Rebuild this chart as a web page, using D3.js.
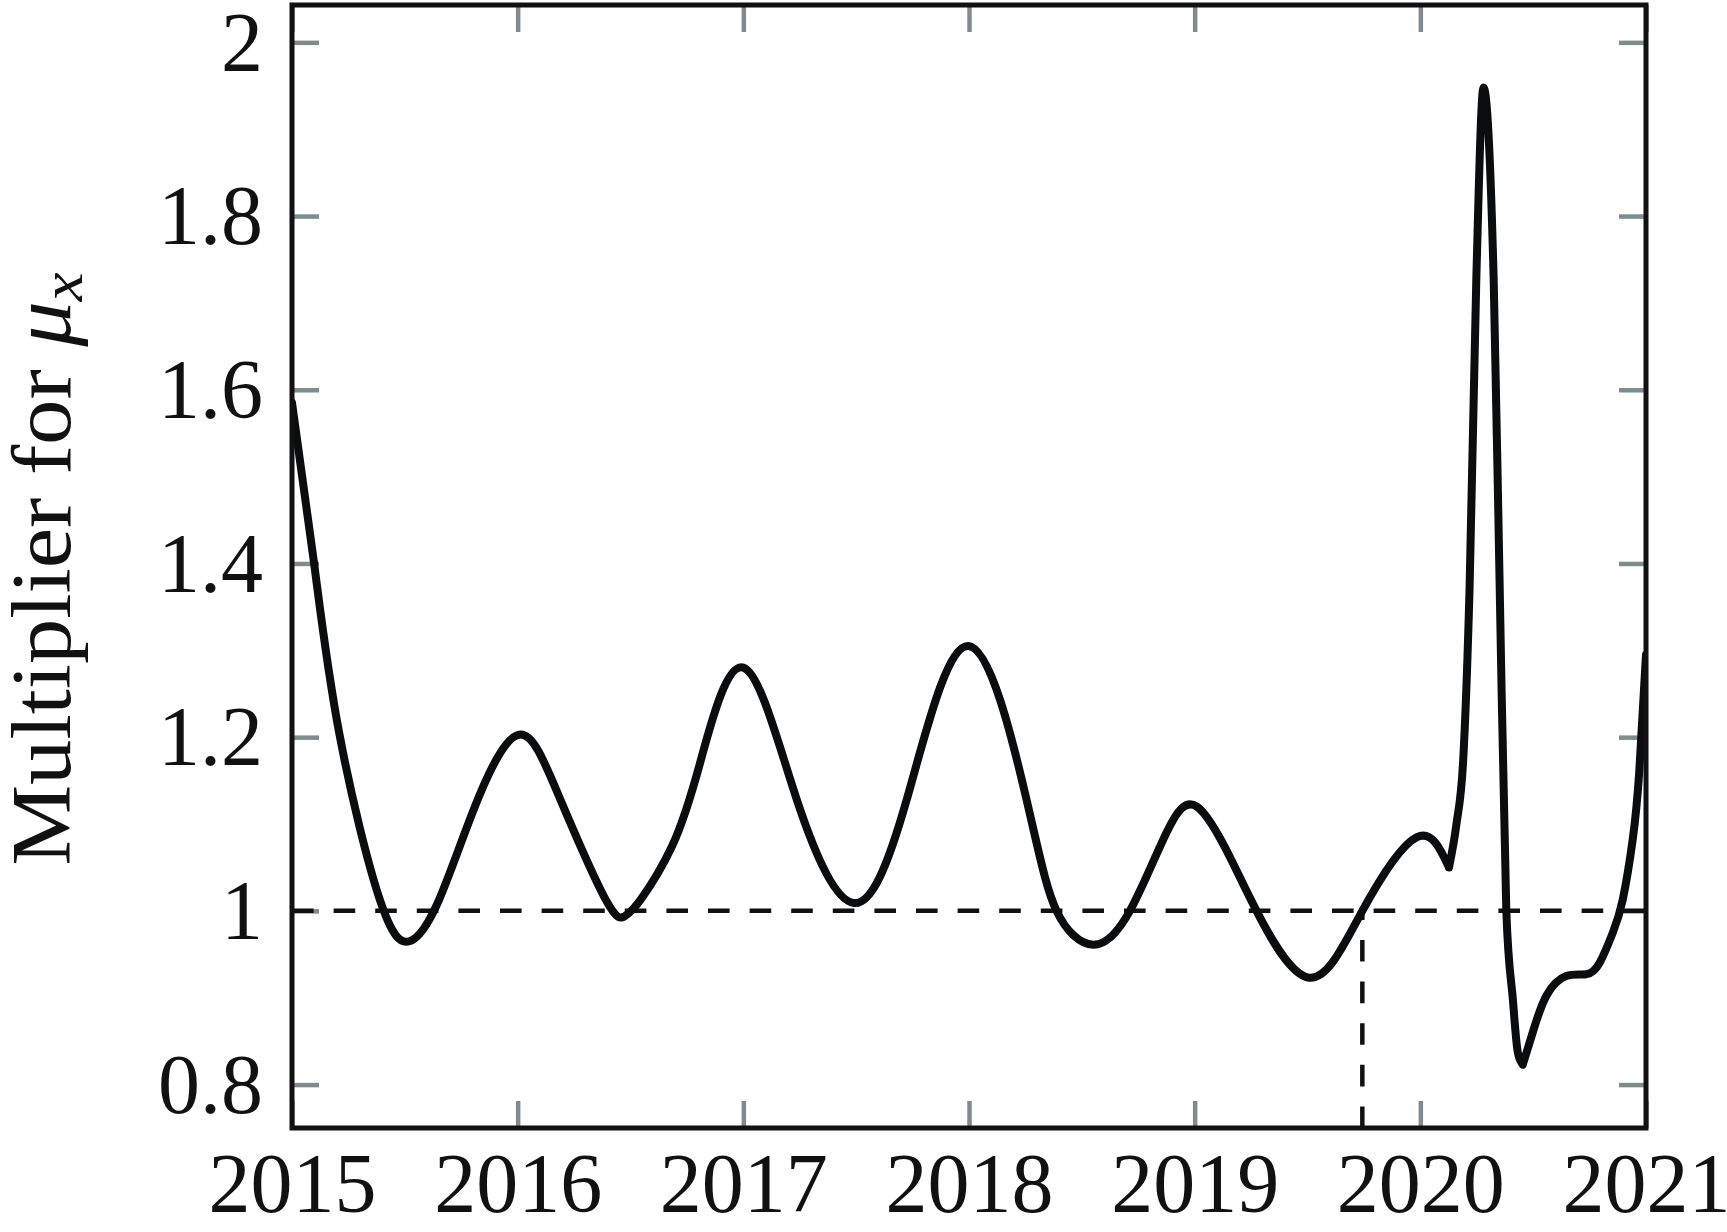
<!DOCTYPE html>
<html>
<head>
<meta charset="utf-8">
<script src="https://cdn.jsdelivr.net/npm/d3@7"></script>
<style>
  html, body { margin: 0; padding: 0; background: #fff; }
  svg { display: block; }
  .tick line { stroke: #7f8c8d; stroke-width: 4.5; }
  .tick text { font-family: "Liberation Serif", "Times New Roman", serif; font-size: 84px; fill: #111; }
</style>
</head>
<body>
<div id="chart"></div>
<script>
// x ticks (years) and y ticks
var yearTicks = [2015, 2016, 2017, 2018, 2019, 2020, 2021];
var yearLabels = ["2015", "2016", "2017", "2018", "2019", "2020", "2021"];
var yTicks = [0.8, 1.0, 1.2, 1.4, 1.6, 1.8, 2.0];
var yLabels = ["0.8", "1", "1.2", "1.4", "1.6", "1.8", "2"];

// curve
var time = [2015.000, 2015.098, 2015.209, 2015.389, 2015.520, 2015.652, 2015.829,
            2016.013, 2016.183, 2016.390, 2016.475, 2016.545, 2016.685, 2016.809, 2017.000,
            2017.237, 2017.490, 2017.724, 2017.997, 2018.255, 2018.388, 2018.550, 2018.713,
            2018.875, 2019.010, 2019.160, 2019.274, 2019.507, 2019.743, 2019.985, 2020.127,
            2020.159, 2020.190, 2020.218, 2020.248, 2020.280, 2020.325, 2020.351, 2020.381,
            2020.410, 2020.432, 2020.454, 2020.498, 2020.558, 2020.646, 2020.735, 2020.794,
            2020.853, 2020.897, 2020.941, 2020.970, 2021.000];
var multiplier = [1.585, 1.400, 1.205, 1.013, 0.965, 1.013, 1.132,
                  1.203, 1.132, 1.013, 0.994, 1.013, 1.075, 1.171, 1.280,
                  1.128, 1.009, 1.128, 1.305, 1.128, 1.000, 0.961, 1.000,
                  1.090, 1.120, 1.060, 1.000, 0.923, 1.000, 1.085, 1.050,
                  1.098, 1.174, 1.370, 1.727, 1.948, 1.727, 1.382, 1.000,
                  0.898, 0.837, 0.823, 0.860, 0.902, 0.925, 0.927, 0.940,
                  0.975, 1.013, 1.082, 1.160, 1.295];

var refLevel = 1;
var crossYear = 2019.743;
var spikeFrom = 2020.127, spikeTo = 2020.454;

var W = 1727, H = 1232;
var pL = 292, pR = 1646, pT = 5, pB = 1128;
var tickLen = 27;

var svg = d3.select('#chart').append('svg')
    .attr('width', W)
    .attr('height', H);

var x = d3.scaleLinear().domain([2015, 2021]).range([pL, pR]);
var y = d3.scaleLinear().domain([0.75, 2.043]).range([pB, pT]);

// ticks, all pointing inward
var axL = d3.axisLeft(y).tickValues(yTicks).tickSize(-tickLen).tickPadding(29)
    .tickFormat(function(d, i) { return yLabels[i]; });
var gL = svg.append('g').attr('transform', 'translate(' + pL + ',0)').call(axL);
gL.selectAll('text').attr('dy', '0.33em');

var axR = d3.axisRight(y).tickValues(yTicks).tickSize(-tickLen).tickFormat('');
svg.append('g').attr('transform', 'translate(' + pR + ',0)').call(axR);

var axB = d3.axisBottom(x).tickValues(yearTicks).tickSize(-tickLen)
    .tickFormat(function(d, i) { return yearLabels[i]; });
var gB = svg.append('g').attr('transform', 'translate(0,' + pB + ')').call(axB);
gB.selectAll('text').attr('y', 84).attr('dy', null);

var axT = d3.axisTop(x).tickValues(yearTicks).tickSize(-tickLen).tickFormat('');
svg.append('g').attr('transform', 'translate(0,' + pT + ')').call(axT);

svg.selectAll('.domain').remove();
svg.selectAll('.tick text').attr('fill', '#111');

// clip
svg.append('clipPath').attr('id', 'plot')
  .append('rect')
    .attr('x', pL).attr('y', pT)
    .attr('width', pR - pL).attr('height', pB - pT);

var plot = svg.append('g').attr('clip-path', 'url(#plot)');

// dashed reference lines
plot.append('line')
    .attr('x1', x(2015)).attr('x2', x(2021))
    .attr('y1', y(refLevel)).attr('y2', y(refLevel))
    .attr('stroke', '#111').attr('stroke-width', 4.5)
    .attr('stroke-dasharray', '21.6,20');

plot.append('line')
    .attr('x1', x(crossYear)).attr('x2', x(crossYear))
    .attr('y1', y(0.75)).attr('y2', y(refLevel))
    .attr('stroke', '#111').attr('stroke-width', 4.5)
    .attr('stroke-dasharray', '21.6,20');

// smooth spline for the waves, monotone pieces around the spike
var pts = time.map(function(t, i) { return [t, multiplier[i]]; });
var smooth = d3.line()
    .x(function(d) { return x(d[0]); })
    .y(function(d) { return y(d[1]); })
    .curve(d3.curveNatural);
var mono = d3.line()
    .x(function(d) { return x(d[0]); })
    .y(function(d) { return y(d[1]); })
    .curve(d3.curveMonotoneX);

var partA = pts.filter(function(d) { return d[0] <= spikeFrom; });
var partB = pts.filter(function(d) { return d[0] >= spikeFrom && d[0] <= spikeTo; });
var partC = pts.filter(function(d) { return d[0] >= spikeTo; });

plot.append('path')
    .attr('d', smooth(partA) + mono(partB) + smooth(partC))
    .attr('fill', 'none')
    .attr('stroke', '#0b0c0d')
    .attr('stroke-width', 8)
    .attr('stroke-linejoin', 'round')
    .attr('stroke-linecap', 'round');

// frame
svg.append('rect')
    .attr('x', pL).attr('y', pT)
    .attr('width', pR - pL).attr('height', pB - pT)
    .attr('fill', 'none')
    .attr('stroke', '#111')
    .attr('stroke-width', 5);

// y label
var lab = svg.append('g')
    .attr('transform', 'translate(70,569) rotate(-90) scale(1.08,1)')
  .append('text')
    .attr('text-anchor', 'middle')
    .style('font-family', '"Liberation Serif", "Times New Roman", serif')
    .style('font-size', '84px')
    .attr('fill', '#111');
lab.append('tspan').text('Multiplier for ');
lab.append('tspan').style('font-style', 'italic').text('\u03bc');
lab.append('tspan').style('font-style', 'italic').style('font-size', '60px')
    .attr('dy', 12).text('x');
</script>
</body>
</html>
